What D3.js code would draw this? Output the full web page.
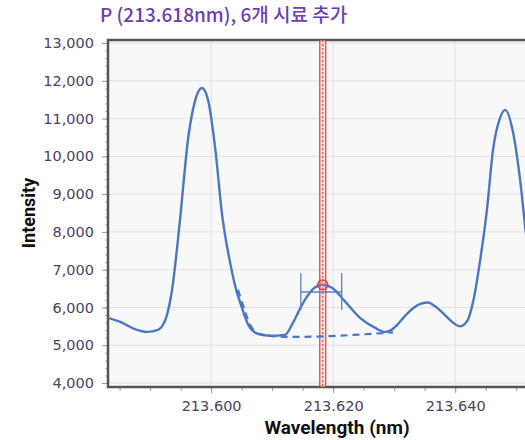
<!DOCTYPE html>
<html>
<head>
<meta charset="utf-8">
<script src="https://cdn.jsdelivr.net/npm/d3@7"></script>
<style>
  body { margin: 0; background: #fff; overflow: hidden; }
  .tick text { font-family: "DejaVu Sans", Verdana, sans-serif; font-size: 14.5px; fill: #4e4160; }
</style>
</head>
<body>
<div id="chart"></div>
<script>
// spectrum (solid line)
let wavelength = [213.5831, 213.5851, 213.5875, 213.5895, 213.5913, 213.5925, 213.5936, 213.5949,
  213.5962, 213.5974, 213.5985, 213.5995, 213.6007, 213.6018, 213.6031, 213.6041, 213.6049,
  213.6061, 213.6077, 213.6097, 213.6121, 213.6134, 213.6149, 213.6166, 213.6182, 213.6198,
  213.6220, 213.6244, 213.6269, 213.6285, 213.6295, 213.6305, 213.6318, 213.6331, 213.6344,
  213.6356, 213.6367, 213.6382, 213.6395, 213.6408, 213.6420, 213.6430, 213.6441, 213.6452,
  213.6462, 213.6474, 213.6482, 213.6495, 213.6507, 213.6516, 213.6528];
let intensity = [5725, 5620, 5430, 5355, 5410, 5670, 6470, 8320,
  10430, 11490, 11810, 11490, 10170, 8450, 7200, 6470, 6070,
  5540, 5300, 5250, 5275, 5590, 6070, 6470, 6600, 6520,
  6150, 5725, 5460, 5350, 5400, 5540, 5780, 5980, 6100,
  6130, 6030, 5820, 5620, 5500, 5650, 6200, 7260, 8580,
  10170, 11040, 11230, 10620, 9300, 7950, 6500];

// background fit (dashed line)
let bgWavelength = [213.6044, 213.6052, 213.6064, 213.6080, 213.6130, 213.6298];
let bgIntensity = [6470, 6070, 5540, 5290, 5220, 5340];

// peak marker
let markerNm = 213.6183;
let peakValue = 6600;
let errLow = 213.6147, errHigh = 213.6214;
let errTop = 6910, errBottom = 5930, errMid = 6410;

let yTicks = [4000, 5000, 6000, 7000, 8000, 9000, 10000, 11000, 12000, 13000];
let xTicks = [213.600, 213.620, 213.640];

let titleText = "P (213.618nm), 6개 시료 추가";

let svgWidth = 525, svgHeight = 440;
let plotLeft = 108, plotTop = 40, plotBottom = 387, plotRight = 540;

let svg = d3.select("#chart").append("svg")
  .attr("width", svgWidth).attr("height", svgHeight);

let x = d3.scaleLinear().domain([213.5831, 213.6539]).range([plotLeft, plotRight]);
let y = d3.scaleLinear().domain([3895, 13080]).range([plotBottom, plotTop]);

// plot background
svg.append("rect").attr("x", plotLeft).attr("y", plotTop)
  .attr("width", plotRight - plotLeft).attr("height", plotBottom - plotTop)
  .attr("fill", "#f8f8f9");

// grid
svg.append("g").selectAll("line").data(yTicks).join("line")
  .attr("x1", plotLeft).attr("x2", plotRight)
  .attr("y1", d => y(d)).attr("y2", d => y(d))
  .attr("stroke", "#e2e2e4").attr("stroke-width", 1);
svg.append("g").selectAll("line").data(xTicks).join("line")
  .attr("y1", plotTop).attr("y2", plotBottom)
  .attr("x1", d => x(d)).attr("x2", d => x(d))
  .attr("stroke", "#e2e2e4").attr("stroke-width", 1);

// y axis with minor ticks
let yMinor = d3.range(4000, 13001, 200);
svg.append("g").attr("transform", `translate(${plotLeft},0)`)
  .call(d3.axisLeft(y).tickValues(yMinor).tickSize(3).tickFormat(""))
  .call(g => g.select(".domain").remove())
  .call(g => g.selectAll("line").attr("stroke", "#b0b0b0"));
svg.append("g").attr("transform", `translate(${plotLeft},0)`)
  .call(d3.axisLeft(y).tickValues(yTicks).tickSize(6).tickPadding(8).tickFormat(d3.format(",")))
  .call(g => g.select(".domain").remove())
  .call(g => g.selectAll("line").attr("stroke", "#9a9a9a"));

// x axis with minor ticks
let xMinor = d3.range(213.585, 213.655, 0.005);
svg.append("g").attr("transform", `translate(0,${plotBottom})`)
  .call(d3.axisBottom(x).tickValues(xMinor).tickSize(4).tickFormat(""))
  .call(g => g.select(".domain").remove())
  .call(g => g.selectAll("line").attr("stroke", "#9a9a9a"));
svg.append("g").attr("transform", `translate(0,${plotBottom})`)
  .call(d3.axisBottom(x).tickValues(xTicks).tickSize(6).tickPadding(8).tickFormat(d3.format(".3f")))
  .call(g => g.select(".domain").remove())
  .call(g => g.selectAll("line").attr("stroke", "#9a9a9a"));

// frame
svg.append("path")
  .attr("d", `M${plotRight},${plotTop}H${plotLeft}V${plotBottom}H${plotRight}`)
  .attr("fill", "none").attr("stroke", "#555").attr("stroke-width", 2.5);

// red marker band
let band = svg.append("g");
band.append("rect")
  .attr("x", x(markerNm) - 3).attr("y", plotTop)
  .attr("width", 6).attr("height", plotBottom - plotTop)
  .attr("fill", "#f4c8c8").attr("opacity", 0.5);
[-3, 3].forEach(o => band.append("line")
  .attr("x1", x(markerNm) + o).attr("x2", x(markerNm) + o)
  .attr("y1", plotTop).attr("y2", plotBottom)
  .attr("stroke", "#e03030").attr("stroke-width", 1.1));
band.append("line")
  .attr("x1", x(markerNm)).attr("x2", x(markerNm))
  .attr("y1", plotTop).attr("y2", plotBottom)
  .attr("stroke", "#e03030").attr("stroke-width", 1)
  .attr("stroke-dasharray", "2,2");

let line = d3.line().curve(d3.curveMonotoneX);

// background dashed
svg.append("path")
  .datum(bgWavelength.map((w, i) => [x(w), y(bgIntensity[i])]))
  .attr("d", line)
  .attr("fill", "none").attr("stroke", "#4a76c6").attr("stroke-width", 2.2)
  .attr("stroke-dasharray", "7,5");

// spectrum
svg.append("path")
  .datum(wavelength.map((w, i) => [x(w), y(intensity[i])]))
  .attr("d", line)
  .attr("fill", "none").attr("stroke", "#4a76c6").attr("stroke-width", 2.4);

// error bar
let eb = svg.append("g").attr("stroke", "#5a7fc6").attr("stroke-width", 1.3);
eb.append("line").attr("x1", x(errLow)).attr("x2", x(errHigh))
  .attr("y1", y(errMid)).attr("y2", y(errMid));
[errLow, errHigh].forEach(v => eb.append("line")
  .attr("x1", x(v)).attr("x2", x(v))
  .attr("y1", y(errTop)).attr("y2", y(errBottom)));

// peak circle
svg.append("circle")
  .attr("cx", x(markerNm)).attr("cy", y(peakValue)).attr("r", 5)
  .attr("fill", "rgba(240,120,120,0.35)").attr("stroke", "#e03a3a").attr("stroke-width", 1.3);

// title
svg.append("text")
  .attr("x", 100).attr("y", 22)
  .attr("font-family", "'Noto Sans CJK KR', 'Noto Sans', sans-serif")
  .attr("font-size", "19px").attr("font-weight", 500)
  .attr("fill", "#6a3fb0")
  .text(titleText);

// axis labels
svg.append("text")
  .attr("transform", "rotate(-90)")
  .attr("x", -213).attr("y", 35)
  .attr("text-anchor", "middle")
  .attr("font-family", "Roboto, sans-serif").attr("font-weight", "bold")
  .attr("font-size", "18px").attr("fill", "#111")
  .text("Intensity");

svg.append("text")
  .attr("x", 337).attr("y", 434)
  .attr("text-anchor", "middle")
  .attr("font-family", "Roboto, sans-serif").attr("font-weight", "bold")
  .attr("font-size", "19px").attr("fill", "#111")
  .text("Wavelength (nm)");
</script>
</body>
</html>
